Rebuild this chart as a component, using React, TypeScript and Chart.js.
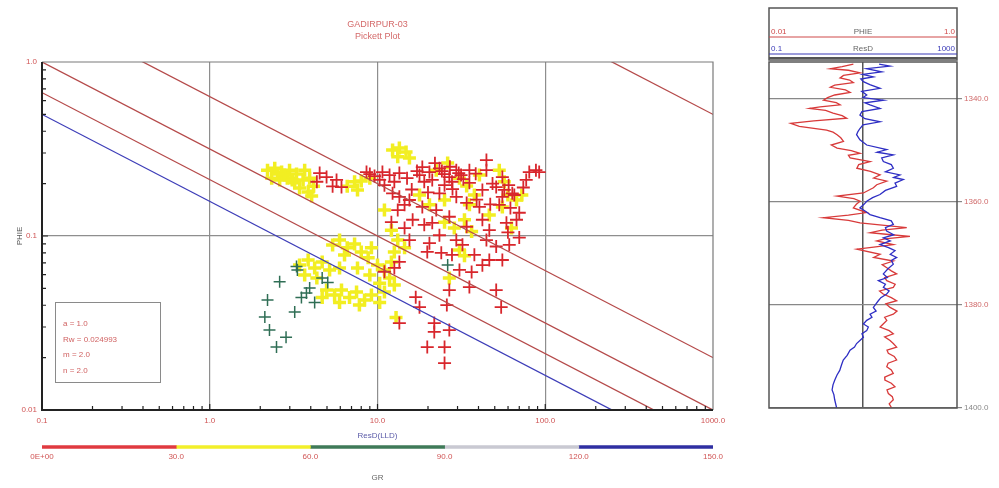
import React, { useEffect, useRef } from "react";
import { Chart, registerables } from "chart.js";
Chart.register(...registerables);

const FONT = '"Liberation Sans", Arial, sans-serif';

const titleLines = ["GADIRPUR-03", "Pickett Plot"];
const xTitle = "ResD(LLD)";
const yTitle = "PHIE";
const xTickValues = [0.1, 1, 10, 100, 1000];
const xTickLabels = ["0.1", "1.0", "10.0", "100.0", "1000.0"];
const yTickValues = [0.01, 0.1, 1];
const yTickLabels = ["0.01", "0.1", "1.0"];

const archieA = 1.0;
const archieRw = 0.025;
const archieM = 2.0;
const archieN = 2.0;
const paramLabels = ["a = 1.0", "Rw = 0.024993", "m = 2.0", "n = 2.0"];
const swValues = [1.0, 0.75, 0.5, 0.25, 0.01];
const swColors = ["#3d3db8", "#b54a4a", "#b54a4a", "#b54a4a", "#b54a4a"];

// GR 0-30 (red)
const redPoints: [number, number][] = [
  [4.52, 0.23], [4.35, 0.205], [4.97, 0.218], [5.7, 0.21], [6.1, 0.191], [5.4, 0.193],
  [8.6, 0.233], [9.6, 0.221], [10.7, 0.233], [11.8, 0.224], [13.5, 0.23], [15.0, 0.215], [12.6, 0.205], [11.0, 0.196],
  [9.0, 0.227], [10.3, 0.21],
  [18.5, 0.249], [26.8, 0.218], [29.5, 0.239], [21.2, 0.21], [44.6, 0.273], [44.6, 0.239], [80.3, 0.233], [88, 0.239],
  [77, 0.21], [51, 0.191], [42.2, 0.184], [55.5, 0.168], [40.5, 0.147], [22.4, 0.141], [18.5, 0.147], [16.2, 0.124],
  [21.2, 0.119], [26.8, 0.129], [34, 0.113], [42.2, 0.124], [46.4, 0.108], [70, 0.136], [67.4, 0.124], [58.7, 0.119],
  [29.5, 0.0948], [20.4, 0.091], [15.5, 0.0948], [24.0, 0.08], [44.6, 0.0948], [51, 0.087], [12.3, 0.176], [13.5, 0.168],
  [15.5, 0.161], [23.4, 0.176], [29.5, 0.168], [35.3, 0.202], [63.6, 0.176], [55.5, 0.218], [34, 0.155],
  [92, 0.233], [35.3, 0.239], [25.1, 0.196], [17.8, 0.224], [14.5, 0.151], [19.0, 0.116], [23.4, 0.101], [53.2, 0.151],
  [57, 0.184], [65.4, 0.172],
  [20.4, 0.233], [23.4, 0.245], [25.1, 0.227], [27.8, 0.205], [31.5, 0.224], [19.0, 0.205], [22.0, 0.262],
  [24.2, 0.236], [27.0, 0.25], [30.5, 0.23], [17.2, 0.236], [32.5, 0.212], [38.5, 0.228], [48.5, 0.2], [60.5, 0.196],
  [16.0, 0.185], [20.0, 0.178], [28.0, 0.186], [39.0, 0.162], [47.0, 0.152], [62.0, 0.145], [74.0, 0.19],
  [19.8, 0.081], [27.8, 0.078], [30.8, 0.0638], [36.4, 0.062], [42.2, 0.068], [46.4, 0.0728], [55.5, 0.0728],
  [35.3, 0.0509], [51, 0.0489], [54.6, 0.039], [16.9, 0.0445], [17.8, 0.039], [25.9, 0.0401], [26.8, 0.0489],
  [13.5, 0.0316], [21.8, 0.0316], [21.8, 0.0281], [26.8, 0.0288], [19.8, 0.023], [25.1, 0.023], [25.1, 0.0186],
  [11.0, 0.0623], [12.6, 0.0655], [13.5, 0.071], [13.2, 0.141], [12.1, 0.12], [14.5, 0.111],
  [32.1, 0.089], [37.8, 0.078], [61, 0.089], [70, 0.098], [59.9, 0.105],
];

// GR 30-60 (yellow)
const yellowPoints: [number, number][] = [
  [2.21, 0.239], [2.44, 0.245], [2.68, 0.233], [2.99, 0.239], [3.29, 0.227], [2.34, 0.215], [2.61, 0.21], [2.9, 0.215],
  [3.21, 0.202], [3.6, 0.21], [3.94, 0.215], [3.43, 0.189], [3.86, 0.179], [4.16, 0.193], [2.79, 0.224], [2.54, 0.227],
  [3.68, 0.239], [3.1, 0.21], [4.05, 0.17],
  [6.6, 0.193], [7.3, 0.205], [8.0, 0.207], [7.6, 0.184], [9.0, 0.215],
  [12.3, 0.312], [13.5, 0.32], [14.8, 0.304], [13.2, 0.285], [15.5, 0.281],
  [30.8, 0.215], [34, 0.194], [37.8, 0.172], [35.3, 0.151], [53.2, 0.239], [57, 0.205], [59.9, 0.172], [55.5, 0.147],
  [25.1, 0.12], [28.7, 0.111], [33, 0.124], [36.4, 0.106], [12.1, 0.108], [13.2, 0.0948], [14.5, 0.0855], [12.6, 0.081],
  [30.8, 0.0831], [33, 0.077], [17.8, 0.172], [20.4, 0.151], [40.5, 0.224], [25.1, 0.161], [72.5, 0.172], [46.4, 0.132],
  [62.9, 0.111], [22.4, 0.239], [26.2, 0.263], [67.4, 0.161], [11.0, 0.141],
  [5.4, 0.0888], [5.94, 0.0948], [6.6, 0.0855], [7.3, 0.09], [8.0, 0.081], [8.8, 0.075], [9.2, 0.0855], [6.36, 0.0778],
  [10.0, 0.0681], [11.0, 0.0638], [11.8, 0.0574], [10.3, 0.0536], [9.0, 0.0597], [7.6, 0.0655], [12.6, 0.0523],
  [3.43, 0.0681], [3.86, 0.0728], [4.22, 0.0655], [4.68, 0.071], [5.18, 0.0638], [4.35, 0.0574], [5.94, 0.0655], [3.68, 0.0597],
  [4.97, 0.0489], [5.55, 0.0458], [6.1, 0.0489], [6.81, 0.0443], [7.5, 0.0476], [8.37, 0.0429], [9.2, 0.0458],
  [10.3, 0.0415], [11.0, 0.0476], [7.8, 0.0401], [5.94, 0.0415], [4.68, 0.0443],
  [12.9, 0.034], [26.8, 0.0574], [12.1, 0.071],
];

// GR 60-90 (green)
const greenPoints: [number, number][] = [
  [2.61, 0.0545], [2.21, 0.0429], [2.13, 0.0342], [2.27, 0.0288], [2.5, 0.023], [2.85, 0.0262], [3.21, 0.0366],
  [3.33, 0.0638], [3.52, 0.0443], [3.94, 0.0503], [4.22, 0.0415], [4.68, 0.0574], [5.05, 0.054], [3.77, 0.047],
  [3.29, 0.0668], [26.2, 0.0681],
];

const grBreaks = [0, 30, 60, 90, 120, 150];
const grColors = ["#e03a40", "#f2ef2a", "#3f7a58", "#c9c9d2", "#2f2fa2"];
const grTickLabels = ["0E+00", "30.0", "60.0", "90.0", "120.0", "150.0"];
const grTitle = "GR";

// Log track
const depthTicks = [1340, 1360, 1380, 1400];
const depthRange = [1332.9, 1400];
const phieHeader = ["0.01", "PHIE", "1.0"];
const resHeader = ["0.1", "ResD", "1000"];

const resDepth = [
  1333.3, 1333.7, 1334.2, 1334.8, 1335.3, 1335.8, 1336.2, 1336.7, 1337.3, 1338.0, 1338.6, 1339.3, 1339.8, 1340.3,
  1340.8, 1341.2, 1341.9, 1342.5, 1343.2, 1343.9, 1344.5, 1345.1, 1345.8, 1346.4, 1347.0, 1348.0, 1349.0, 1349.9,
  1350.4, 1350.9, 1351.5, 1352.2, 1352.8, 1353.5, 1354.2, 1354.8, 1355.3, 1355.7, 1356.4, 1357.0, 1357.8, 1358.6,
  1359.2, 1359.9, 1360.5, 1361.2, 1361.9, 1362.5, 1363.1, 1363.7, 1364.4, 1365.0, 1365.7, 1366.4, 1367.0, 1367.6,
  1368.3, 1368.9, 1369.5, 1370.2, 1370.8, 1371.4, 1372.1, 1373.0, 1374.0, 1374.7, 1375.3, 1376.0, 1376.6, 1377.3,
  1377.9, 1378.6, 1379.2, 1380.5, 1381.2, 1381.8, 1382.4, 1383.0, 1383.7, 1384.3, 1385.0, 1385.6, 1386.3, 1387.5,
  1388.2, 1388.8, 1389.8, 1390.7, 1391.6, 1392.7, 1393.6, 1394.6, 1395.5, 1396.5, 1397.4, 1398.4, 1400.0,
];
const resValues = [
  22.0, 37.5, 12.0, 25.0, 9.8, 16.6, 9.0, 10.2, 14.0, 23.0, 9.4, 12.0, 10.0, 27.1,
  11.0, 14.1, 23.0, 9.5, 8.6, 11.0, 23.0, 10.0, 8.6, 7.8, 7.3, 8.6, 12.0, 31.9,
  20.0, 44.2, 25.0, 27.1, 40.0, 44.2, 30.0, 61.2, 45.0, 72.1, 48.0, 52.0, 30.0, 23.0,
  16.0, 12.0, 10.5, 8.6, 11.5, 14.1, 23.0, 40.0, 44.2, 30.0, 31.9, 45.0, 27.1, 38.0,
  23.0, 35.0, 48.0, 38.0, 52.0, 40.0, 44.2, 34.0, 27.1, 33.0, 21.2, 30.0, 27.1, 36.0,
  31.9, 24.0, 21.2, 16.6, 19.0, 14.1, 15.5, 12.0, 10.2, 13.0, 12.0, 9.5, 10.2, 7.3,
  6.6, 5.3, 4.6, 3.8, 3.5, 3.2, 2.8, 2.5, 2.3, 2.2, 2.4, 2.5, 2.75,
];
const phiDepth = [
  1333.3, 1333.8, 1334.2, 1334.5, 1335.0, 1335.5, 1336.0, 1336.4, 1336.9, 1337.4, 1337.8, 1338.3, 1338.8, 1339.3,
  1339.8, 1340.3, 1340.8, 1341.2, 1341.6, 1341.9, 1342.3, 1342.8, 1343.3, 1343.8, 1344.3, 1344.8, 1345.4, 1346.1,
  1346.5, 1347.0, 1347.6, 1348.3, 1349.0, 1349.6, 1350.1, 1350.6, 1351.0, 1351.5, 1352.2, 1352.8, 1353.5, 1354.1,
  1354.8, 1355.4, 1356.0, 1356.7, 1357.3, 1358.3, 1358.9, 1359.4, 1359.9, 1360.5, 1361.2, 1362.1, 1362.6, 1363.1,
  1363.6, 1364.1, 1364.5, 1365.0, 1365.5, 1366.0, 1366.4, 1366.7, 1367.2, 1367.6, 1368.3, 1368.8, 1369.2, 1370.2,
  1370.8, 1371.5, 1372.2, 1372.8, 1373.4, 1374.0, 1374.7, 1375.3, 1376.0, 1376.6, 1377.3, 1377.9, 1378.6, 1379.2,
  1379.8, 1380.5, 1381.2, 1381.8, 1382.4, 1383.0, 1383.7, 1384.3, 1385.0, 1385.6, 1386.2, 1386.9, 1387.5, 1388.2,
  1388.8, 1389.4, 1390.0, 1390.7, 1391.3, 1392.0, 1392.6, 1393.3, 1394.0, 1394.6, 1395.2, 1395.9, 1396.5, 1397.2,
  1397.8, 1398.4, 1399.2, 1400.0,
];
const phiValues = [
  0.079, 0.06, 0.045, 0.07, 0.093, 0.062, 0.057, 0.072, 0.079, 0.05, 0.045, 0.065, 0.073, 0.05,
  0.042, 0.038, 0.052, 0.057, 0.035, 0.027, 0.04, 0.048, 0.06, 0.067, 0.03, 0.017, 0.021, 0.041,
  0.048, 0.053, 0.058, 0.062, 0.046, 0.053, 0.075, 0.093, 0.07, 0.073, 0.119, 0.09, 0.086, 0.12,
  0.152, 0.13, 0.179, 0.14, 0.129, 0.101, 0.053, 0.08, 0.093, 0.085, 0.079, 0.109, 0.07, 0.038,
  0.07, 0.093, 0.15, 0.292, 0.16, 0.119, 0.2, 0.316, 0.17, 0.14, 0.21, 0.13, 0.086, 0.152,
  0.13, 0.21, 0.16, 0.179, 0.2, 0.228, 0.17, 0.179, 0.22, 0.21, 0.15, 0.164, 0.2, 0.228,
  0.175, 0.194, 0.23, 0.21, 0.17, 0.179, 0.164, 0.152, 0.19, 0.21, 0.17, 0.194, 0.21, 0.228,
  0.18, 0.186, 0.215, 0.228, 0.185, 0.179, 0.2, 0.21, 0.17, 0.171, 0.2, 0.219, 0.18, 0.186,
  0.205, 0.21, 0.19, 0.202,
];

const toXY = (pts: [number, number][]) => pts.map(([x, y]) => ({ x, y }));
const swPhi = (rt: number, sw: number) =>
  Math.pow((archieA * archieRw) / (rt * Math.pow(sw, archieN)), 1 / archieM);

const mainDecor = {
  id: "mainDecor",
  afterDraw(chart: any) {
    const { ctx, chartArea, scales } = chart;
    const { left, right, top, bottom } = chartArea;
    const xs = scales.x;
    const ys = scales.y;
    ctx.save();
    ctx.strokeStyle = "#7a7a7a";
    ctx.lineWidth = 1.2;
    ctx.beginPath();
    ctx.moveTo(left, top);
    ctx.lineTo(right, top);
    ctx.lineTo(right, bottom);
    ctx.stroke();
    ctx.strokeStyle = "#222";
    ctx.lineWidth = 2;
    ctx.beginPath();
    ctx.moveTo(left, top);
    ctx.lineTo(left, bottom);
    ctx.lineTo(right, bottom);
    ctx.stroke();
    ctx.lineWidth = 1.2;
    ctx.beginPath();
    for (let d = 0.1; d < 999; d *= 10) {
      for (let k = 1; k <= 9; k++) {
        const px = xs.getPixelForValue(d * k);
        const len = k === 1 ? 6 : 4;
        ctx.moveTo(px, bottom);
        ctx.lineTo(px, bottom - len);
      }
    }
    for (let d = 0.01; d < 0.99; d *= 10) {
      for (let k = 1; k <= 9; k++) {
        const py = ys.getPixelForValue(d * k);
        const len = k === 1 ? 6 : 4;
        ctx.moveTo(left, py);
        ctx.lineTo(left + len, py);
      }
    }
    ctx.stroke();
    ctx.fillStyle = "#d46a6a";
    ctx.font = `9px ${FONT}`;
    ctx.textAlign = "center";
    ctx.textBaseline = "middle";
    const cx = (left + right) / 2;
    ctx.fillText(titleLines[0], cx, 25);
    ctx.fillText(titleLines[1], cx, 37);
    ctx.font = `8px ${FONT}`;
    ctx.fillStyle = "#5a5aa8";
    ctx.fillText(xTitle, cx, 436);
    const tw = ctx.measureText(xTitle).width;
    ctx.strokeStyle = "#4a4ab0";
    ctx.lineWidth = 1;
    ctx.beginPath();
    ctx.moveTo(cx - tw / 2, 441.5);
    ctx.lineTo(cx + tw / 2, 441.5);
    ctx.stroke();
    ctx.strokeStyle = "#8a8a8a";
    ctx.lineWidth = 1;
    ctx.strokeRect(55.5, 302.5, 105, 80);
    ctx.fillStyle = "#d06262";
    ctx.textAlign = "left";
    paramLabels.forEach((t, i) => ctx.fillText(t, 63, 324 + i * 15.5));
    ctx.restore();
  },
};

const trackDecor = {
  id: "trackDecor",
  afterDraw(chart: any) {
    const { ctx, chartArea } = chart;
    const { left, right, top, bottom } = chartArea;
    ctx.save();
    ctx.strokeStyle = "#555";
    ctx.lineWidth = 1.5;
    ctx.strokeRect(left, top, right - left, bottom - top);
    ctx.strokeRect(left, 8, right - left, 52);
    ctx.lineWidth = 2;
    ctx.beginPath();
    ctx.moveTo(left, 58);
    ctx.lineTo(right, 58);
    ctx.stroke();
    ctx.font = `8px ${FONT}`;
    ctx.textBaseline = "alphabetic";
    const rows = [
      { lab: phieHeader, y: 34, line: 37, col: "#d04a4a" },
      { lab: resHeader, y: 51, line: 54, col: "#3a3ab8" },
    ];
    rows.forEach((r) => {
      ctx.fillStyle = r.col;
      ctx.textAlign = "left";
      ctx.fillText(r.lab[0], left + 2, r.y);
      ctx.textAlign = "right";
      ctx.fillText(r.lab[2], right - 2, r.y);
      ctx.fillStyle = "#666";
      ctx.textAlign = "center";
      ctx.fillText(r.lab[1], (left + right) / 2, r.y);
      ctx.strokeStyle = r.col;
      ctx.lineWidth = 1.2;
      ctx.beginPath();
      ctx.moveTo(left, r.line);
      ctx.lineTo(right, r.line);
      ctx.stroke();
    });
    ctx.restore();
  },
};

export default function App() {
  const mainRef = useRef<HTMLCanvasElement>(null);
  const barRef = useRef<HTMLCanvasElement>(null);
  const trackRef = useRef<HTMLCanvasElement>(null);

  useEffect(() => {
    Chart.defaults.font.family = FONT;
    const tickColor = "#d05555";

    const main = new Chart(mainRef.current as HTMLCanvasElement, {
      type: "scatter",
      data: {
        datasets: [
          ...swValues.map((s, i) => ({
            label: "Sw " + s,
            data: [
              { x: 0.01, y: swPhi(0.01, s) },
              { x: 10000, y: swPhi(10000, s) },
            ],
            showLine: true,
            borderColor: swColors[i],
            borderWidth: 1.3,
            pointRadius: 0,
            order: 0,
          })),
          {
            label: "GR 0-30",
            data: toXY(redPoints),
            pointStyle: "cross",
            pointRadius: 6.5,
            borderColor: "#d8262c",
            borderWidth: 1.8,
            order: 1,
          },
          {
            label: "GR 60-90",
            data: toXY(greenPoints),
            pointStyle: "cross",
            pointRadius: 6,
            borderColor: "#2f6e55",
            borderWidth: 1.5,
            order: 2,
          },
          {
            label: "GR 30-60",
            data: toXY(yellowPoints),
            pointStyle: "cross",
            pointRadius: 6.5,
            borderColor: "#f2ee22",
            borderWidth: 3.5,
            order: 3,
          },
        ] as any,
      },
      options: {
        responsive: false,
        animation: false,
        layout: { padding: { left: 0, right: 27, top: 62, bottom: 0 } },
        plugins: { legend: { display: false }, tooltip: { enabled: false } },
        scales: {
          x: {
            type: "logarithmic",
            min: 0.1,
            max: 1000,
            afterBuildTicks: (s: any) => {
              s.ticks = xTickValues.map((v) => ({ value: v }));
            },
            afterFit: (s: any) => {
              s.height = 30;
            },
            grid: {
              color: (c: any) =>
                c.tick && c.tick.value > 0.1 && c.tick.value < 1000 ? "#8e8e8e" : "rgba(0,0,0,0)",
              lineWidth: 1.2,
              drawTicks: false,
            },
            border: { display: false },
            ticks: {
              callback: (_v: any, i: number) => xTickLabels[i],
              color: tickColor,
              font: { size: 8 },
              padding: 6,
              maxRotation: 0,
              autoSkip: false,
            },
          },
          y: {
            type: "logarithmic",
            min: 0.01,
            max: 1,
            afterBuildTicks: (s: any) => {
              s.ticks = yTickValues.map((v) => ({ value: v }));
            },
            afterFit: (s: any) => {
              s.width = 42;
            },
            grid: {
              color: (c: any) =>
                c.tick && c.tick.value > 0.01 && c.tick.value < 1 ? "#8e8e8e" : "rgba(0,0,0,0)",
              lineWidth: 1.2,
              drawTicks: false,
            },
            border: { display: false },
            ticks: {
              callback: (_v: any, i: number) => yTickLabels[i],
              color: tickColor,
              font: { size: 8 },
              padding: 5,
              autoSkip: false,
            },
            title: {
              display: true,
              text: yTitle,
              color: "#555",
              font: { size: 8 },
              padding: { top: 15, bottom: 0 },
            },
          },
        },
      } as any,
      plugins: [mainDecor],
    });

    const bar = new Chart(barRef.current as HTMLCanvasElement, {
      type: "bar",
      data: {
        labels: [grTitle],
        datasets: grColors.map((c, i) => ({
          label: `${grBreaks[i]}-${grBreaks[i + 1]}`,
          data: [[grBreaks[i], grBreaks[i + 1]]],
          backgroundColor: c,
          barThickness: 3,
          borderWidth: 0,
          grouped: false,
        })) as any,
      },
      options: {
        indexAxis: "y",
        responsive: false,
        animation: false,
        layout: { padding: { left: 42, right: 27, top: 4, bottom: 0 } },
        plugins: { legend: { display: false }, tooltip: { enabled: false } },
        scales: {
          x: {
            type: "linear",
            min: grBreaks[0],
            max: grBreaks[grBreaks.length - 1],
            afterBuildTicks: (s: any) => {
              s.ticks = grBreaks.map((v) => ({ value: v }));
            },
            afterFit: (s: any) => {
              s.height = 38;
            },
            grid: { display: false, drawTicks: false, tickLength: 0 },
            border: { display: false },
            ticks: {
              callback: (_v: any, i: number) => grTickLabels[i],
              color: tickColor,
              font: { size: 8 },
              padding: 2,
              maxRotation: 0,
              autoSkip: false,
            },
            title: {
              display: true,
              text: grTitle,
              color: "#666",
              font: { size: 8 },
              padding: { top: 0, bottom: 5 },
            },
          },
          y: { display: false },
        },
      } as any,
    });

    const track = new Chart(trackRef.current as HTMLCanvasElement, {
      type: "scatter",
      data: {
        datasets: [
          {
            label: "ResD",
            data: resDepth.map((d, i) => ({ x: resValues[i], y: d })),
            xAxisID: "xr",
            showLine: true,
            borderColor: "#2e2ec4",
            borderWidth: 1.3,
            pointRadius: 0,
          },
          {
            label: "PHIE",
            data: phiDepth.map((d, i) => ({ x: phiValues[i], y: d })),
            xAxisID: "xp",
            showLine: true,
            borderColor: "#d83a3a",
            borderWidth: 1.3,
            pointRadius: 0,
          },
        ] as any,
      },
      options: {
        responsive: false,
        animation: false,
        layout: { padding: { left: 29, right: 0, top: 62, bottom: 80 } },
        plugins: { legend: { display: false }, tooltip: { enabled: false } },
        scales: {
          xp: {
            type: "logarithmic",
            position: "top",
            min: 0.01,
            max: 1,
            afterBuildTicks: (s: any) => {
              s.ticks = [{ value: 0.1 }];
            },
            afterFit: (s: any) => {
              s.height = 0;
            },
            ticks: { display: false },
            grid: { color: "#555", lineWidth: 1.5, drawTicks: false },
            border: { display: false },
          },
          xr: { type: "logarithmic", position: "top", min: 0.1, max: 1000, display: false },
          y: {
            type: "linear",
            position: "right",
            reverse: true,
            min: depthRange[0],
            max: depthRange[1],
            afterBuildTicks: (s: any) => {
              s.ticks = depthTicks.map((v) => ({ value: v }));
            },
            afterFit: (s: any) => {
              s.width = 42;
            },
            grid: { color: "#888", lineWidth: 1.2, tickLength: 5 },
            border: { display: false },
            ticks: {
              callback: (v: any) => Number(v).toFixed(1),
              color: (c: any) => (c.index === depthTicks.length - 1 ? "#888" : "#d06a6a"),
              font: { size: 8 },
              padding: 2,
              autoSkip: false,
            },
          },
        },
      } as any,
      plugins: [trackDecor],
    });

    return () => {
      main.destroy();
      bar.destroy();
      track.destroy();
    };
  }, []);

  return (
    <div style={{ position: "fixed", left: 0, top: 0, width: 999, height: 488, background: "#fff" }}>
      <canvas ref={mainRef} width={740} height={440} style={{ position: "absolute", left: 0, top: 0 }} />
      <canvas ref={barRef} width={740} height={48} style={{ position: "absolute", left: 0, top: 440 }} />
      <canvas ref={trackRef} width={259} height={488} style={{ position: "absolute", left: 740, top: 0 }} />
    </div>
  );
}
